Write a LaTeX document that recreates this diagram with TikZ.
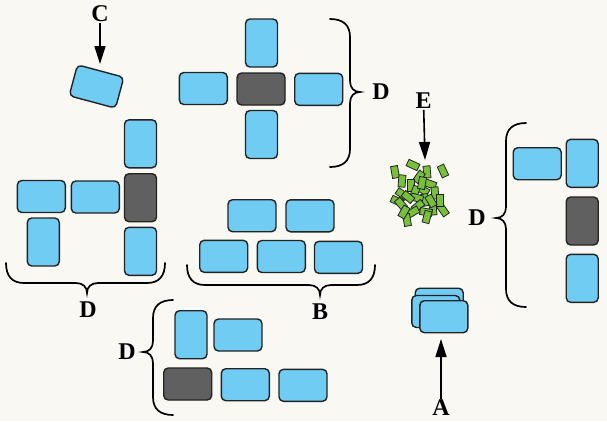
\documentclass[tikz,border=0pt]{standalone}
\usepackage{fontspec}
\setmainfont{Liberation Serif}
\usetikzlibrary{arrows.meta}
\definecolor{bg}{RGB}{250,248,243}
\definecolor{blu}{RGB}{112,204,242}
\definecolor{drk}{RGB}{96,96,96}
\definecolor{grn}{RGB}{120,192,60}
\definecolor{edge}{RGB}{35,35,35}
% vertical brace: x0, ytop, ybot, ymid, side(+1 tip right / -1 tip left)
\newcommand{\vbrc}[5]{%
\draw[brc] (#1,#2) .. controls ({#1+(#5)*13},#2) and ({#1+(#5)*20},{#2+6}) .. ({#1+(#5)*20},{#2+18})
 -- ({#1+(#5)*20},{#4-11}) .. controls ({#1+(#5)*20},{#4-4}) and ({#1+(#5)*24},#4) .. ({#1+(#5)*30},#4)
 .. controls ({#1+(#5)*24},#4) and ({#1+(#5)*20},{#4+4}) .. ({#1+(#5)*20},{#4+11})
 -- ({#1+(#5)*20},{#3-18}) .. controls ({#1+(#5)*20},{#3-6}) and ({#1+(#5)*13},#3) .. (#1,#3);}
% horizontal brace: y0, xleft, xright, xmid, side(+1 tip down)
\newcommand{\hbrc}[5]{%
\draw[brc] (#2,#1) .. controls (#2,{#1+(#5)*13}) and ({#2+6},{#1+(#5)*20}) .. ({#2+18},{#1+(#5)*20})
 -- ({#4-11},{#1+(#5)*20}) .. controls ({#4-4},{#1+(#5)*20}) and (#4,{#1+(#5)*24}) .. (#4,{#1+(#5)*30})
 .. controls (#4,{#1+(#5)*24}) and ({#4+4},{#1+(#5)*20}) .. ({#4+11},{#1+(#5)*20})
 -- ({#3-18},{#1+(#5)*20}) .. controls ({#3-6},{#1+(#5)*20}) and (#3,{#1+(#5)*13}) .. (#3,#1);}
\begin{document}
\begin{tikzpicture}[x=1pt,y=-1pt,
  box/.style={draw=edge, line width=1.4pt, rounded corners=4.5pt, inner sep=0pt},
  hb/.style={box, fill=blu, minimum width=48pt, minimum height=32pt},
  vb/.style={box, fill=blu, minimum width=32pt, minimum height=48pt},
  dh/.style={box, fill=drk, minimum width=48pt, minimum height=32pt},
  dv/.style={box, fill=drk, minimum width=32pt, minimum height=48pt},
  gr/.style={draw=edge, fill=grn, line width=0.8pt, minimum width=7pt, minimum height=12pt, inner sep=0pt},
  lab/.style={font=\fontsize{24}{26}\selectfont\bfseries, inner sep=1pt},
  brc/.style={draw=black, line width=1.7pt, line cap=round},
  arr/.style={draw=black, line width=1.6pt, -{Triangle[length=18pt,width=11pt]}}]
\useasboundingbox (0,0) rectangle (607,421);
\fill[bg] (0,0) rectangle (607,421);

% C
\node[hb, rotate=-15] (cbox) at (96.5,86.5) {};
\node[lab] (C) at (100,14) {C};
\coordinate (ctip) at (100,64);
\draw[arr] (C) -- (ctip);

% cross group
\node[vb] (x1) at (261.5,43) {};
\node[hb] (x2) at (203.3,88.5) {};
\node[dh] (x3) at (261,89) {};
\node[hb] (x4) at (318.7,89.3) {};
\node[vb] (x5) at (261.5,134.5) {};
\vbrc{330}{19}{167}{92}{1}
\node[lab] (D1) at (381,92) {D};

% left group
\node[vb] (l1) at (140.5,143.8) {};
\node[dv] (l2) at (140.5,197.7) {};
\node[vb] (l3) at (140.5,251.3) {};
\node[hb] (l4) at (41.3,196.5) {};
\node[hb] (l5) at (95.3,197) {};
\node[vb] (l6) at (43.3,242) {};
\hbrc{263}{6}{165}{87}{1}
\node[lab] (D2) at (88,310) {D};

% B group
\node[hb] (b1) at (252,215.7) {};
\node[hb] (b2) at (310,215.8) {};
\node[hb] (b3) at (223.7,256.3) {};
\node[hb] (b4) at (281.3,256.5) {};
\node[hb] (b5) at (338.5,257.3) {};
\hbrc{265}{187}{375}{320}{1}
\node[lab] (B) at (320,312) {B};

% bottom D group
\node[vb] (d1) at (191,334.7) {};
\node[hb] (d2) at (238,335) {};
\node[dh] (d3) at (187.7,384) {};
\node[hb] (d4) at (245.3,384.7) {};
\node[hb] (d5) at (303,385.3) {};
\vbrc{173}{300}{415}{352}{-1}
\node[lab] (D3) at (127,352) {D};

% right D group
\node[hb] (r1) at (537.2,163.7) {};
\node[vb] (r2) at (582.2,163.3) {};
\node[dv] (r3) at (582.2,221) {};
\node[vb] (r4) at (582.2,278.3) {};
\vbrc{526}{123}{307}{218}{-1}
\node[lab] (D4) at (477,218) {D};

% E cluster
\node[lab] (E) at (423.5,101) {E};
\coordinate (etip) at (425,160);
\draw[arr] (E) -- (etip);
\foreach \gx/\gy/\gr [count=\i] in {
 413/165/65, 395/172/10, 402/181/-5, 427/172/5, 419/177/-35, 443/171/25,
 411/185/0, 430/184/70, 423/190/60, 415/192/-20, 402/194/55, 435/193/5,
 397/201/65, 425/200/10, 417/198/75, 418/206/-50, 401/204/40, 433/209/5,
 443/210/35, 413/212/-60, 426/212/80, 407/220/10, 427/217/-15, 440/200/0,
 408/197/50, 422/183/-10, 431/201/30, 404/212/-30}
 \node[gr, rotate=\gr] (g\i) at (\gx,\gy) {};

% A stack
\node[hb] (s1) at (439.2,304.2) {};
\node[hb] (s2) at (435.8,311.5) {};
\node[hb] (s3) at (443.8,316.7) {};
\node[lab] (A) at (441,408) {A};
\coordinate (atip) at (441,339);
\draw[arr] (A) -- (atip);
\end{tikzpicture}
\end{document}
